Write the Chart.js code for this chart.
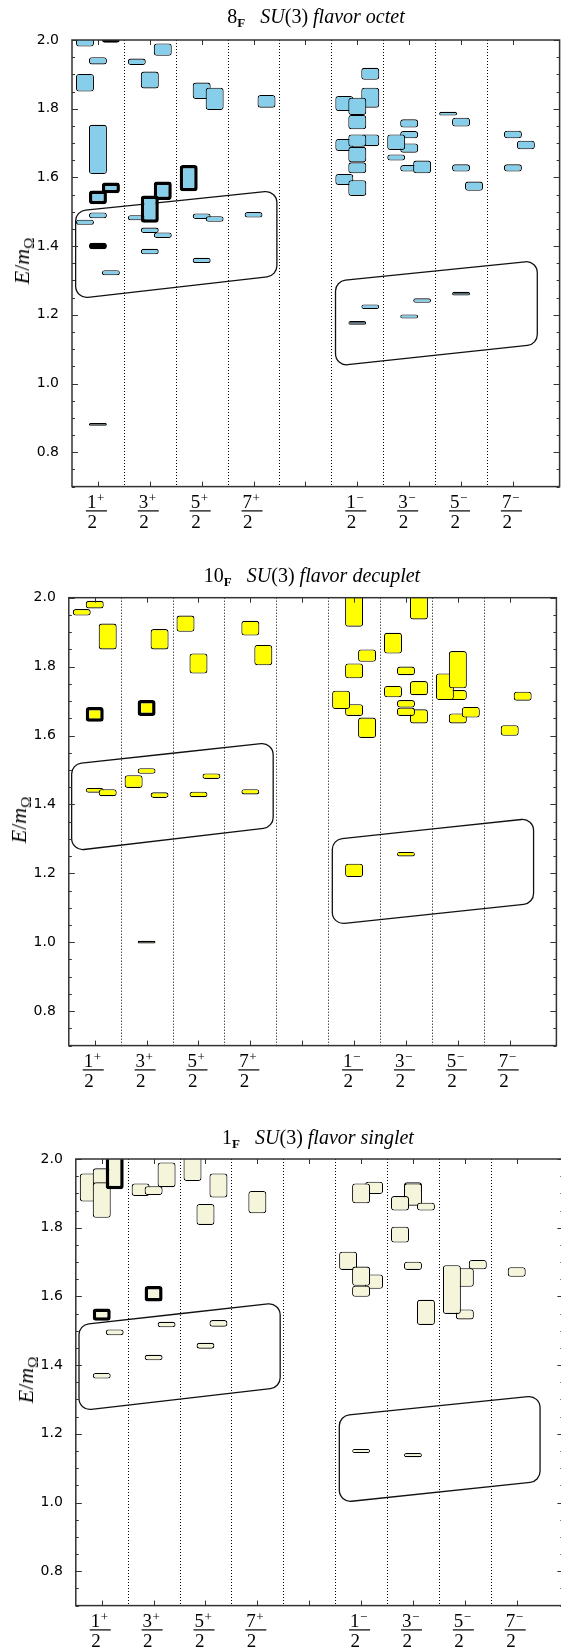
<!DOCTYPE html>
<html>
<head>
<meta charset="utf-8">
<script src="https://cdn.jsdelivr.net/npm/chart.js@4.4.1/dist/chart.umd.min.js"></script>
<style>
  html, body { margin:0; padding:0; background:#fff; overflow:hidden; }
  #page { position:relative; width:561px; height:1647px; overflow:hidden; background:#fff; }
  .panel { position:absolute; left:0; }
  .title { position:absolute; font-family:'Liberation Serif', serif; font-size:20px; line-height:20px; white-space:nowrap; transform:translateX(-50%); color:#000; }
  .title sub { font-size:13px; font-weight:bold; vertical-align:-4px; line-height:0; }
  .ylab { position:absolute; font-family:'Liberation Serif', serif; font-size:22px; line-height:22px; white-space:nowrap; transform:translate(-50%,-50%) rotate(-90deg); color:#000; }
  .ylab sub { font-size:15px; vertical-align:-5px; line-height:0; }
</style>
</head>
<body>
<div id="page">
  <canvas id="c1" class="panel" width="580" height="545" style="top:0px"></canvas>
  <canvas id="c2" class="panel" width="580" height="555" style="top:545px"></canvas>
  <canvas id="c3" class="panel" width="580" height="547" style="top:1100px"></canvas>
  <div class="title" style="left:316px; top:6px">8<sub>F</sub>&nbsp;&nbsp;&nbsp;<i>SU</i>(3) <i>flavor octet</i></div>
  <div class="title" style="left:312px; top:565px">10<sub>F</sub>&nbsp;&nbsp;&nbsp;<i>SU</i>(3) <i>flavor decuplet</i></div>
  <div class="title" style="left:318px; top:1127px">1<sub>F</sub>&nbsp;&nbsp;&nbsp;<i>SU</i>(3) <i>flavor singlet</i></div>
  <div class="ylab" style="left:22px; top:261px"><i>E</i>/<i>m</i><sub>Ω</sub></div>
  <div class="ylab" style="left:19px; top:820px"><i>E</i>/<i>m</i><sub>Ω</sub></div>
  <div class="ylab" style="left:26px; top:1380px"><i>E</i>/<i>m</i><sub>Ω</sub></div>
</div>
<script>
// ---------- data: [x position, E low, E high] ----------
const tickValues = [1, 2, 3, 4, 5, 6, 7, 8, 9];
const labelValues = [1, 2, 3, 4, 6, 7, 8, 9];
const labelNumerators = ['1', '3', '5', '7', '1', '3', '5', '7'];
const labelParities = ['+', '+', '+', '+', '\u2212', '\u2212', '\u2212', '\u2212'];
const labelDenominator = '2';
const dividerValues = [1.5, 2.5, 3.5, 4.5, 5.5, 6.5, 7.5, 8.5];

const octetLevels = [
  [0.75, 1.981, 2.03], [1.0, 1.929, 1.950], [0.75, 1.850, 1.901], [1.0, 1.610, 1.753],
  [1.0, 1.481, 1.498], [0.75, 1.462, 1.477], [1.25, 1.315, 1.330],
  [1.75, 1.927, 1.946], [2.25, 1.954, 1.990], [2.0, 1.859, 1.908], [1.75, 1.475, 1.490],
  [2.0, 1.438, 1.454], [2.25, 1.424, 1.440], [2.0, 1.376, 1.392],
  [3.0, 1.828, 1.876], [3.25, 1.796, 1.861], [3.0, 1.479, 1.495], [3.25, 1.471, 1.487], [3.0, 1.351, 1.366],
  [4.25, 1.803, 1.840], [4.0, 1.483, 1.499],
  [5.75, 1.793, 1.837], [5.75, 1.677, 1.712], [5.75, 1.578, 1.610],
  [6.25, 1.884, 1.919], [6.25, 1.803, 1.861], [6.25, 1.691, 1.725],
  [6.0, 1.782, 1.832], [6.0, 1.740, 1.782], [6.0, 1.689, 1.725], [6.0, 1.644, 1.689],
  [6.0, 1.612, 1.644], [6.0, 1.546, 1.592],
  [7.0, 1.745, 1.769], [7.0, 1.714, 1.735], [7.0, 1.672, 1.699], [7.0, 1.617, 1.636],
  [6.75, 1.680, 1.725], [6.75, 1.649, 1.667], [7.25, 1.612, 1.649],
  [7.75, 1.780, 1.791], [8.0, 1.748, 1.774], [8.0, 1.617, 1.638], [8.25, 1.561, 1.588],
  [9.0, 1.714, 1.736], [9.25, 1.682, 1.707], [9.0, 1.617, 1.638],
  [6.25, 1.217, 1.230], [7.0, 1.189, 1.201], [7.25, 1.235, 1.248]
];
const octetDarkLevels = [[1.0, 0.877, 0.885], [6.0, 1.171, 1.182], [8.0, 1.256, 1.267]];
const octetHighlighted = [
  [1.25, 1.992, 2.06], [1.25, 1.554, 1.585], [1.0, 1.522, 1.562], [1.0, 1.391, 1.410],
  [2.25, 1.534, 1.588], [2.0, 1.468, 1.547], [2.75, 1.560, 1.636]
];
const octetBands = [[0.57, 4.45, 1.502, 1.562, 1.247, 1.314], [5.58, 9.47, 1.298, 1.358, 1.051, 1.114]];

const decupletLevels = [
  [0.75, 1.948, 1.967], [1.0, 1.969, 1.991], [1.25, 1.850, 1.925], [1.0, 1.434, 1.448], [1.25, 1.424, 1.444],
  [2.25, 1.850, 1.909], [1.75, 1.448, 1.485], [2.0, 1.489, 1.505], [2.25, 1.419, 1.435],
  [2.75, 1.901, 1.948], [3.0, 1.780, 1.838], [3.0, 1.421, 1.437], [3.25, 1.474, 1.490],
  [4.0, 1.890, 1.933], [4.25, 1.804, 1.863], [4.0, 1.429, 1.444],
  [6.0, 1.916, 2.02], [6.25, 1.814, 1.850], [6.0, 1.766, 1.809], [6.0, 1.657, 1.691],
  [5.75, 1.677, 1.730], [6.25, 1.593, 1.652],
  [6.75, 1.838, 1.898], [7.25, 1.937, 2.02], [7.0, 1.775, 1.800], [6.75, 1.711, 1.744],
  [7.25, 1.717, 1.758], [7.25, 1.635, 1.676], [7.0, 1.681, 1.703], [7.0, 1.657, 1.681],
  [8.0, 1.703, 1.732], [7.75, 1.703, 1.780], [8.0, 1.737, 1.845], [8.0, 1.635, 1.664], [8.25, 1.652, 1.683],
  [9.25, 1.701, 1.727], [9.0, 1.599, 1.630],
  [6.0, 1.189, 1.228], [7.0, 1.249, 1.262]
];
const decupletDarkLevels = [[2.0, 0.996, 1.004]];
const decupletHighlighted = [[1.0, 1.640, 1.683], [2.0, 1.657, 1.703]];
const decupletBands = [[0.555, 4.44, 1.517, 1.580, 1.265, 1.334], [5.58, 9.46, 1.298, 1.360, 1.051, 1.113]];

const singletLevels = [
  [0.75, 1.876, 1.958], [1.0, 1.924, 1.973], [1.0, 1.829, 1.932], [1.25, 1.487, 1.504], [1.0, 1.361, 1.377],
  [1.75, 1.892, 1.929], [2.0, 1.895, 1.921], [2.25, 1.918, 1.990], [2.25, 1.510, 1.526], [2.0, 1.414, 1.430],
  [2.75, 1.936, 2.02], [3.25, 1.888, 1.958], [3.0, 1.808, 1.869], [3.25, 1.512, 1.531], [3.0, 1.448, 1.465],
  [4.0, 1.842, 1.907],
  [6.25, 1.898, 1.934], [6.0, 1.871, 1.929], [5.75, 1.677, 1.730], [6.25, 1.622, 1.664],
  [6.0, 1.631, 1.687], [6.0, 1.599, 1.631],
  [7.0, 1.905, 1.932], [7.0, 1.864, 1.929], [6.75, 1.850, 1.892], [7.25, 1.850, 1.873],
  [6.75, 1.757, 1.803], [7.0, 1.677, 1.701], [7.25, 1.517, 1.590],
  [8.0, 1.628, 1.682], [8.0, 1.533, 1.562], [7.75, 1.549, 1.691], [8.25, 1.679, 1.706],
  [9.0, 1.657, 1.685],
  [6.0, 1.144, 1.156], [7.0, 1.132, 1.144]
];
const singletDarkLevels = [];
const singletHighlighted = [[1.25, 1.912, 2.05], [1.0, 1.529, 1.565], [2.0, 1.585, 1.630]];
const singletBands = [[0.562, 4.44, 1.517, 1.582, 1.267, 1.335], [5.58, 9.45, 1.252, 1.312, 1.0, 1.062]];

const yTickValuesMinor = [];
for (let i = 14; i <= 40; i++) yTickValuesMinor.push(i / 20);

// ---------- drawing helpers ----------
function roundedPoly(ctx, pts, r) {
  const n = pts.length;
  const mx = (pts[0][0] + pts[1][0]) / 2, my = (pts[0][1] + pts[1][1]) / 2;
  ctx.beginPath();
  ctx.moveTo(mx, my);
  for (let i = 1; i <= n; i++) {
    const p = pts[i % n], q = pts[(i + 1) % n];
    ctx.arcTo(p[0], p[1], q[0], q[1], r);
  }
  ctx.closePath();
}

const framePlugin = {
  id: 'frame',
  beforeDatasetsDraw(chart, args, opts) {
    const {ctx, chartArea: a, scales: {x, y}} = chart;
    ctx.save();
    ctx.beginPath();
    ctx.rect(a.left, a.top, a.right - a.left, a.bottom - a.top);
    ctx.clip();
    ctx.strokeStyle = '#000';
    ctx.lineWidth = 1;
    ctx.setLineDash([1, 2]);
    ctx.beginPath();
    for (const v of dividerValues) {
      const px = Math.round(x.getPixelForValue(v)) + 0.5;
      ctx.moveTo(px, a.top);
      ctx.lineTo(px, a.bottom);
    }
    ctx.stroke();
    ctx.setLineDash([]);
    ctx.lineWidth = 1.3;
    ctx.strokeStyle = '#111';
    for (const b of opts.bands) {
      const x0 = x.getPixelForValue(b[0]), x1 = x.getPixelForValue(b[1]);
      const pts = [[x0, y.getPixelForValue(b[2])], [x1, y.getPixelForValue(b[3])],
                   [x1, y.getPixelForValue(b[5])], [x0, y.getPixelForValue(b[4])]];
      roundedPoly(ctx, pts, 11);
      ctx.stroke();
    }
    ctx.restore();
  },
  afterDatasetsDraw(chart, args, opts) {
    const {ctx, chartArea: a, scales: {x, y}} = chart;
    ctx.save();
    ctx.strokeStyle = '#333';
    ctx.lineWidth = 1;
    ctx.beginPath();
    for (const v of tickValues) {
      const px = Math.round(x.getPixelForValue(v)) + 0.5;
      ctx.moveTo(px, a.bottom); ctx.lineTo(px, a.bottom - 5);
      ctx.moveTo(px, a.top); ctx.lineTo(px, a.top + 5);
    }
    for (const v of yTickValuesMinor) {
      const py = Math.round(y.getPixelForValue(v)) + 0.5;
      const k = Math.round(v * 20);
      const len = (k % 4 === 0) ? 6 : 3;
      ctx.moveTo(a.left, py); ctx.lineTo(a.left + len, py);
      ctx.moveTo(a.right, py); ctx.lineTo(a.right - len, py);
    }
    ctx.stroke();
    ctx.lineWidth = 1.5;
    ctx.strokeStyle = '#333';
    ctx.strokeRect(a.left, a.top, a.right - a.left, a.bottom - a.top);
    // fraction tick labels
    ctx.fillStyle = '#000';
    ctx.textAlign = 'left';
    ctx.textBaseline = 'alphabetic';
    labelValues.forEach((v, i) => {
      const px = x.getPixelForValue(v);
      ctx.font = '19px "Liberation Serif"';
      ctx.fillText(labelNumerators[i], px - 11, a.bottom + 21.5);
      const w = ctx.measureText(labelNumerators[i]).width;
      ctx.font = '13px "Liberation Serif"';
      ctx.fillText(labelParities[i], px - 11 + w + 0.5, a.bottom + 15);
      ctx.fillRect(px - 12, a.bottom + 23.7, 21, 1.2);
      ctx.font = '19px "Liberation Serif"';
      ctx.fillText(labelDenominator, px - 10.5, a.bottom + 41);
    });
    ctx.restore();
  }
};

function makeChart(id, levels, dark, highlighted, bands, fill, darkFill, area) {
  const canvas = document.getElementById(id);
  const W = canvas.width, H = canvas.height;
  const all = levels.concat(dark, highlighted);
  const nNormal = levels.length, nDark = dark.length;
  const data = all.map(l => ({x: l[0], y: [l[1], l[2]]}));
  return new Chart(canvas, {
    type: 'bar',
    data: {
      datasets: [{
        data,
        backgroundColor: c => (c.dataIndex >= nNormal && c.dataIndex < nNormal + nDark) ? darkFill : fill,
        borderColor: '#000',
        borderWidth: c => c.dataIndex >= nNormal + nDark ? 3.5 : 1.1,
        borderSkipped: false,
        borderRadius: 3,
        barThickness: 18,
        inflateAmount: 0,
        clip: 0
      }]
    },
    options: {
      responsive: false,
      animation: false,
      devicePixelRatio: 1,
      events: [],
      layout: { padding: { left: 0, top: area.top, right: W - area.right, bottom: H - area.bottom } },
      plugins: {
        legend: { display: false },
        tooltip: { enabled: false },
        title: { display: false },
        frame: { bands }
      },
      scales: {
        x: { type: 'linear', min: 0.5, max: 9.9, offset: false, display: false },
        y: {
          type: 'linear', min: 0.7, max: 2.0, beginAtZero: false,
          ticks: {
            stepSize: 0.2, includeBounds: false, padding: 5, color: '#000',
            font: { family: 'DejaVu Sans', size: 14 },
            callback: v => Number(v).toFixed(1)
          },
          grid: { display: false },
          border: { display: false },
          afterFit: s => { s.width = area.left; }
        }
      }
    },
    plugins: [framePlugin]
  });
}

makeChart('c1', octetLevels, octetDarkLevels, octetHighlighted, octetBands, '#87ceeb', '#4d6672',
  { left: 72, top: 40, right: 559.6, bottom: 486.6 });
makeChart('c2', decupletLevels, decupletDarkLevels, decupletHighlighted, decupletBands, '#ffff00', '#3a3818',
  { left: 68.8, top: 52.7, right: 556.4, bottom: 500.6 });
makeChart('c3', singletLevels, singletDarkLevels, singletHighlighted, singletBands, '#f5f5dc', '#555',
  { left: 75.8, top: 59, right: 563.4, bottom: 505.6 });
</script>
</body>
</html>
